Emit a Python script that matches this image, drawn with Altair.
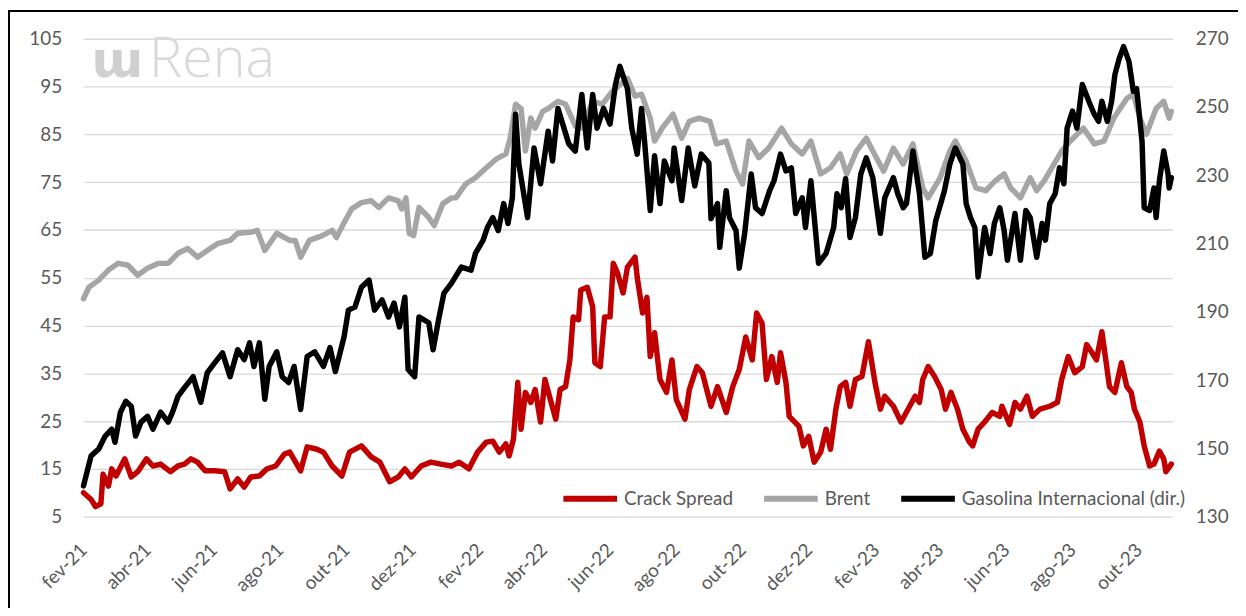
import json
import altair as alt
import pandas as pd

START = "2021-02-01"

# Crack Spread (left axis)
red_day = [0,7,11,16,18,23,26,30,38,44,50,58,64,71,80,87,93,99,105,112,121,130,135,142,148,154,162,169,177,185,
           190,200,206,215,221,229,238,245,256,265,273,282,290,296,302,311,320,329,339,346,355,363,371,377,383,389,392,396,400,403,
           407,412,416,421,425,430,435,439,444,448,451,456,458,464,469,471,476,480,485,488,492,497,501,508,510,515,519,522,526,531,
           537,542,546,554,558,565,570,578,584,592,598,604,610,616,620,625,629,634,639,642,647,650,659,663,668,673,679,684,688,693,
           697,702,706,711,717,723,729,734,738,746,753,761,766,770,773,778,784,790,794,799,805,810,816,819,824,830,837,844,846,853,
           858,863,869,874,881,890,897,901,907,913,920,924,929,933,938,942,945,950,956,961,965,968,973,977,982,986,991,995,997,1002]
red_val = [10.0,8.6,7.1,7.7,13.9,11.4,15.0,13.5,17.1,13.3,14.4,17.1,15.6,16.0,14.4,15.6,16.0,17.1,16.4,14.6,
           14.6,14.4,10.8,12.9,11.2,13.3,13.5,15.0,15.6,18.1,18.5,14.6,19.6,19.1,18.5,15.6,13.5,18.5,19.8,17.5,
           16.4,12.3,13.3,15.0,13.3,15.6,16.4,16.0,15.6,16.4,15.0,18.5,20.6,20.8,18.5,20.2,17.7,21.2,33.1,23.3,
           31.0,28.9,31.6,24.8,33.7,29.5,25.4,31.6,32.2,37.8,46.8,46.2,52.4,53.0,48.9,37.2,36.4,46.8,46.8,58.0,
           55.9,51.8,57.2,59.3,55.1,47.6,50.9,38.5,43.5,33.7,31.0,37.8,29.5,25.4,31.6,36.4,35.1,28.1,32.2,26.8,
           32.2,35.8,42.6,37.8,47.6,45.5,33.7,38.5,33.1,39.3,33.1,26.0,23.9,19.8,21.8,16.4,18.5,23.3,19.1,27.5,
           32.2,33.1,28.1,33.7,34.3,41.6,33.1,27.5,30.2,28.1,24.8,28.1,30.2,28.9,33.7,36.4,34.3,31.6,27.5,31.0,
           27.5,23.3,20.6,19.8,23.3,24.8,26.8,26.0,28.1,24.3,28.9,27.5,30.2,26.0,27.5,28.1,28.9,33.7,38.5,35.1,
           36.4,41.0,39.3,37.8,43.7,37.2,32.2,31.0,37.2,32.2,31.0,27.5,24.8,19.8,15.6,16.0,18.7,17.1,14.4,16.0]

# Brent (left axis)
brent_day = [0,5,14,23,32,41,50,59,69,78,87,96,105,114,124,135,142,154,160,167,
             178,190,195,200,208,220,229,233,240,247,256,265,272,281,290,293,297,300,304,309,
             318,323,331,339,343,352,361,371,380,389,393,398,403,407,412,416,423,428,437,444,
             453,459,469,478,487,501,508,514,522,526,533,543,551,558,567,577,583,592,601,607,
             613,622,631,643,652,662,670,679,688,697,703,712,721,727,737,746,755,764,773,778,
             789,798,803,813,822,831,840,848,854,863,872,878,885,894,901,909,921,931,940,949,
             961,967,973,979,988,995,1000,1002]
brent_val = [50.6,53.0,54.5,56.6,58.0,57.6,55.5,57.0,58.0,58.0,60.1,61.1,59.3,60.7,62.2,62.8,64.3,64.5,64.9,60.7,
             64.3,62.8,62.8,59.3,62.8,63.8,64.9,63.4,66.5,69.4,70.7,71.1,69.7,71.7,71.1,69.4,71.7,64.3,63.8,69.7,
             67.6,65.9,70.5,71.7,71.7,74.6,75.9,78.0,79.8,80.9,84.2,91.3,90.4,81.5,88.4,86.3,89.8,90.4,91.9,91.3,
             86.7,86.3,91.9,91.3,94.0,96.7,93.0,93.4,88.4,83.6,86.3,89.2,84.2,87.7,88.4,87.7,83.0,83.6,77.3,74.6,
             83.6,80.1,82.1,86.3,83.0,80.9,83.6,76.7,78.0,80.9,76.7,81.5,84.2,81.5,77.3,82.1,78.8,83.0,73.8,71.7,
             75.9,81.5,83.6,79.4,73.8,73.2,75.3,76.7,73.8,71.7,75.9,73.2,75.3,78.8,81.5,83.6,86.3,83.0,83.6,88.4,
             92.5,93.4,88.4,85.0,90.4,91.9,88.4,89.8]

# Gasolina Internacional (right axis)
gas_day = [0,7,14,20,26,29,34,39,44,48,53,59,64,71,78,82,87,93,101,108,
           114,121,128,135,142,148,153,157,162,167,171,178,183,189,194,200,206,213,221,227,
           232,240,244,250,256,263,268,275,281,286,291,296,299,305,309,318,322,327,332,339,
           348,357,361,368,372,377,382,387,391,395,398,401,405,409,415,421,428,432,437,447,
           453,459,464,469,473,479,485,490,494,501,505,510,514,517,522,526,531,535,542,544,
           551,557,563,569,576,578,584,586,592,595,601,604,609,615,619,625,632,636,642,647,
           652,656,662,665,670,677,684,691,694,698,702,706,711,716,721,727,734,738,746,750,
           755,758,764,770,775,780,785,793,798,803,810,813,817,821,824,830,835,839,844,848,
           851,858,863,868,872,878,883,886,890,895,899,903,906,911,915,920,926,931,935,938,
           943,947,950,954,958,963,967,970,975,977,982,986,988,991,995,999,1000,1002]
gas_val = [139.0,147.8,149.8,153.6,155.6,151.8,160.6,163.8,162.3,153.6,157.7,159.4,155.6,160.6,157.7,160.6,165.2,167.8,171.0,163.5,
           172.2,175.1,178.0,171.0,178.9,176.0,180.9,174.0,180.9,164.4,174.0,178.3,171.0,169.3,174.0,161.4,176.9,178.3,174.0,179.5,
           172.5,182.7,190.5,191.4,197.2,199.3,190.5,193.5,188.5,192.6,185.6,194.3,173.1,171.0,188.5,186.8,178.9,187.6,195.5,198.4,
           203.1,202.2,207.1,210.9,214.7,217.6,213.8,221.7,215.9,223.4,247.9,233.3,225.5,217.6,238.0,227.5,242.9,234.2,249.6,239.2,
           237.1,253.7,238.0,253.7,243.8,249.6,245.0,256.6,261.9,255.4,243.8,236.2,249.6,239.2,219.7,235.7,221.7,234.2,228.4,238.0,
           222.6,238.0,226.9,236.2,233.6,217.3,221.7,208.9,225.5,217.6,213.8,202.8,213.0,230.4,220.5,218.8,225.5,228.4,236.2,231.3,
           232.2,218.8,223.4,214.7,228.4,204.2,207.1,214.7,224.6,220.5,229.0,211.8,217.6,230.4,235.1,229.3,213.0,223.4,229.3,224.6,
           220.5,221.7,237.1,224.6,206.0,207.1,216.7,225.5,233.3,238.0,233.3,221.7,217.6,214.7,200.2,214.7,207.1,215.9,220.5,213.8,
           205.1,218.8,205.1,219.7,217.6,206.0,215.9,211.0,221.7,224.6,232.2,227.5,243.8,248.8,243.8,256.6,251.7,247.9,245.8,251.7,
           245.8,251.7,259.5,264.2,267.7,263.3,254.6,255.4,240.0,220.5,219.7,226.3,217.6,228.4,237.1,230.4,226.3,229.3]

series_names = ["Crack Spread", "Brent", "Gasolina Internacional (dir.)"]
series_colors = ["#C00000", "#A5A5A5", "#000000"]

x_tick_months = [(2021, 2), (2021, 4), (2021, 6), (2021, 8), (2021, 10), (2021, 12),
                 (2022, 2), (2022, 4), (2022, 6), (2022, 8), (2022, 10), (2022, 12),
                 (2023, 2), (2023, 4), (2023, 6), (2023, 8), (2023, 10)]
x_tick_labels = ["fev-21", "abr-21", "jun-21", "ago-21", "out-21", "dez-21",
                 "fev-22", "abr-22", "jun-22", "ago-22", "out-22", "dez-22",
                 "fev-23", "abr-23", "jun-23", "ago-23", "out-23"]
left_ticks = [5, 15, 25, 35, 45, 55, 65, 75, 85, 95, 105]
right_ticks = [130, 150, 170, 190, 210, 230, 250, 270]


def frame(days, vals, name):
    dates = pd.Timestamp(START) + pd.to_timedelta(days, unit="D")
    return pd.DataFrame({"date": dates, "value": vals, "series": name})


df_left = pd.concat([frame(red_day, red_val, series_names[0]),
                     frame(brent_day, brent_val, series_names[1])], ignore_index=True)
df_right = frame(gas_day, gas_val, series_names[2])

FONT = "Lato"
TXT = "#595959"
W, H = 1096, 481
LW = 5.5

label_expr = (json.dumps(x_tick_labels)
              + "[(year(datum.value)-2021)*6 + floor((month(datum.value)-1)/2)]")

x_enc = alt.X(
    "date:T",
    scale=alt.Scale(domain=[alt.DateTime(year=2021, month=2, date=1),
                            alt.DateTime(year=2023, month=11, date=1)], nice=False),
    axis=alt.Axis(values=[alt.DateTime(year=y, month=m, date=1) for y, m in x_tick_months],
                  labelExpr=label_expr, labelAngle=-45, labelAlign="right",
                  labelBaseline="middle", labelPadding=30, labelFlush=False,
                  labelOverlap=False, grid=False, ticks=False, tickSize=0, domain=False,
                  labelFont=FONT, labelFontSize=19, labelColor=TXT, title=None),
)

legend = alt.Legend(orient="none", legendX=480, legendY=433, direction="horizontal",
                    title=None, symbolType="stroke", symbolSize=2916, symbolStrokeWidth=6,
                    labelFont=FONT, labelFontSize=19, labelColor=TXT, columnPadding=19,
                    labelOffset=4, padding=0, labelLimit=0)
color_enc = alt.Color("series:N", scale=alt.Scale(domain=series_names, range=series_colors),
                      legend=legend, sort=series_names)

left = alt.Chart(df_left).mark_line(strokeWidth=LW, strokeJoin="round", strokeCap="round").encode(
    x=x_enc,
    y=alt.Y("value:Q", scale=alt.Scale(domain=[5, 105], nice=False, zero=False),
            axis=alt.Axis(values=left_ticks, grid=True, gridColor="#d9d9d9", gridWidth=1.3,
                          ticks=False, tickSize=0, domain=False, labelPadding=22,
                          labelFont=FONT, labelFontSize=19, labelColor=TXT, title=None)),
    color=color_enc,
    detail="series:N",
)

right = alt.Chart(df_right).mark_line(strokeWidth=LW, strokeJoin="round", strokeCap="round").encode(
    x=x_enc,
    y=alt.Y("value:Q", scale=alt.Scale(domain=[130, 270], nice=False, zero=False),
            axis=alt.Axis(orient="right", values=right_ticks, grid=False, ticks=False,
                          tickSize=0, domain=False, labelPadding=23, labelFont=FONT,
                          labelFontSize=19, labelColor=TXT, title=None)),
    color=color_enc,
)

logo_df = pd.DataFrame({"t": ["ɯ"]})
word_df = pd.DataFrame({"t": ["Rena"]})
frame_df = pd.DataFrame({"k": [0]})

logo = alt.Chart(logo_df).mark_text(font="DejaVu Sans", fontWeight="bold", fontSize=50,
                                    color="#d0d0d0", align="left", baseline="alphabetic").encode(
    x=alt.value(8), y=alt.value(39), text="t:N")
word = alt.Chart(word_df).mark_text(font="Open Sans", fontWeight=300, fontSize=56,
                                    color="#d9d9d9", align="left", baseline="alphabetic").encode(
    x=alt.value(66), y=alt.value(39), text="t:N")
border_left = alt.Chart(frame_df).mark_rule(stroke="#000000", strokeWidth=2).encode(
    x=alt.value(-75), y=alt.value(-28), y2=alt.value(H + 200))
border_top = alt.Chart(frame_df).mark_rule(stroke="#000000", strokeWidth=2).encode(
    x=alt.value(-76), x2=alt.value(W + 200), y=alt.value(-28))

chart = alt.layer(border_left, border_top, logo, word, left, right).resolve_scale(y="independent").properties(
    width=W, height=H,
    padding={"left": 76, "top": 29, "right": 66, "bottom": 90},
    autosize=alt.AutoSizeParams(type="none"),
    background="white",
).configure_view(stroke=None)

chart.save("out.html", embed_options={"renderer": "svg", "actions": False})
